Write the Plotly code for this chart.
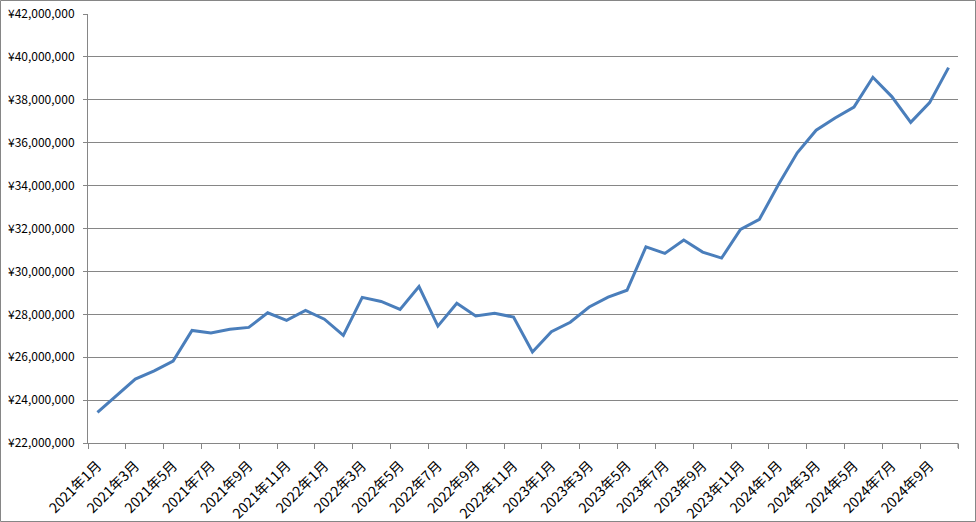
import plotly.graph_objects as go

months = [f"{y}年{m}月" for y in (2021, 2022, 2023, 2024) for m in range(1, 13)][:46]

values = [
    23430000, 24220000, 24980000, 25360000, 25820000, 27250000, 27130000, 27300000,
    27390000, 28070000, 27720000, 28180000, 27770000, 27020000, 28790000, 28600000,
    28230000, 29290000, 27450000, 28510000, 27920000, 28050000, 27870000, 26240000,
    27190000, 27630000, 28340000, 28800000, 29120000, 31140000, 30840000, 31460000,
    30900000, 30620000, 31960000, 32430000, 34040000, 35530000, 36580000, 37150000,
    37660000, 39050000, 38150000, 36950000, 37870000, 39500000,
]

y_min, y_max, y_step = 22000000, 42000000, 2000000

W, H = 976, 522
L, R, T, B = 88, 18, 14, 79
pw, ph = W - L - R, H - T - B

fig = go.Figure()
fig.add_trace(go.Scatter(
    x=months, y=values, mode="lines",
    line=dict(color="#4A7EBB", width=3),
    showlegend=False, hoverinfo="skip",
))

grid = "#868686"
fig.update_layout(
    width=W, height=H,
    margin=dict(l=L, r=R, t=T, b=B, pad=0, autoexpand=False),
    paper_bgcolor="white", plot_bgcolor="white",
    font=dict(family="Noto Sans CJK JP", size=12, color="black"),
    xaxis=dict(
        type="category", tickmode="linear", tick0=0, dtick=2,
        tickson="boundaries", ticks="outside", ticklen=5, tickcolor=grid,
        tickangle=-45, showgrid=False, showline=True, linecolor=grid, linewidth=1,
        range=[-0.5, 45.5], tickfont=dict(size=14), automargin=False,
        ticklabelstandoff=8,
    ),
    yaxis=dict(
        range=[y_min, y_max], dtick=y_step, tick0=y_min,
        tickprefix="¥", tickformat=",d",
        ticks="outside", ticklen=4, tickcolor=grid,
        showgrid=True, gridcolor=grid, gridwidth=1,
        showline=True, linecolor=grid, linewidth=1, zeroline=False,
        tickfont=dict(size=12), ticklabelstandoff=6, automargin=False,
    ),
)

# outer chart border
fig.add_shape(
    type="rect", xref="paper", yref="paper",
    x0=(0.5 - L) / pw, x1=(W - 0.5 - L) / pw,
    y0=(T + ph - (H - 0.5)) / ph, y1=(T + ph - 0.5) / ph,
    line=dict(color=grid, width=1), layer="below",
)
# right-end tick mark of category axis
fig.add_shape(
    type="line", xref="paper", yref="paper",
    x0=1, x1=1, y0=0, y1=-5 / ph, line=dict(color=grid, width=1),
)

fig.write_html(
    "out.html",
    config={"displayModeBar": False, "staticPlot": True},
    post_script="document.body.style.margin='0';document.body.style.overflow='hidden';",
)
